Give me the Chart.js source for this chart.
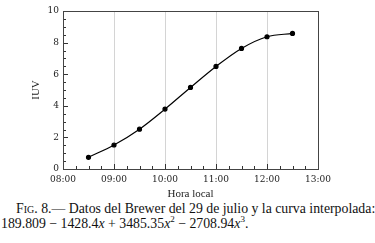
<!DOCTYPE html>
<html>
<head>
<meta charset="utf-8">
<script src="https://cdn.jsdelivr.net/npm/chart.js@4.4.1/dist/chart.umd.min.js"></script>
<style>
  html, body { margin: 0; padding: 0; background: #fff; }
  #wrap { position: relative; width: 375px; height: 243px; overflow: hidden; }
  #chart { position: absolute; left: 0; top: 0; }
  .cap { position: absolute; font-family: "Liberation Serif", serif; font-size: 13.8px; line-height: 15px; color: #111; white-space: nowrap; }
  #cap1 { left: 16px; top: 201px; }
  #cap2 { left: 1px; top: 216px; }
  .sc { font-variant: small-caps; }
  sup { font-size: 9px; line-height: 0; }
</style>
</head>
<body>
<div id="wrap">
  <canvas id="chart" width="375" height="201"></canvas>
  <div class="cap" id="cap1"><span class="sc">Fig</span>. 8.— Datos del Brewer del 29 de julio y la curva interpolada:</div>
  <div class="cap" id="cap2">189.809 − 1428.4<i>x</i> + 3485.35<i>x</i><sup>2</sup> − 2708.94<i>x</i><sup>3</sup>.</div>
</div>
<script>
// hora local (horas decimales) y valores del indice UV
const horas = [8.5, 9, 9.5, 10, 10.5, 11, 11.5, 12, 12.5];
const iuv = [0.74, 1.52, 2.52, 3.79, 5.16, 6.49, 7.63, 8.37, 8.58];
const horaTicks = [8, 9, 10, 11, 12, 13];
const iuvTicks = [0, 2, 4, 6, 8, 10];

const serif = "'DejaVu Serif', serif";

function fmtHora(v) {
  return String(v).padStart(2, "0") + ":00";
}

// marco + marcas hacia dentro, como en la figura original
const frameTicks = {
  id: "frameTicks",
  afterDraw(chart) {
    const { ctx, chartArea: a, scales } = chart;
    ctx.save();
    ctx.strokeStyle = "#333";
    ctx.lineWidth = 1;
    for (let v = 8.25; v < 13; v += 0.25) {
      const x = Math.round(scales.x.getPixelForValue(v)) + 0.5;
      const len = Number.isInteger(v) ? 5 : 3;
      ctx.beginPath();
      ctx.moveTo(x, a.bottom);
      ctx.lineTo(x, a.bottom - len);
      ctx.stroke();
    }
    for (let v = 0.5; v < 10; v += 0.5) {
      const y = Math.round(scales.y.getPixelForValue(v)) + 0.5;
      const len = Number.isInteger(v) && v % 2 === 0 ? 5 : 3;
      ctx.beginPath();
      ctx.moveTo(a.left, y);
      ctx.lineTo(a.left + len, y);
      ctx.stroke();
    }
    ctx.strokeStyle = "#444";
    ctx.strokeRect(Math.round(a.left) + 0.5, Math.round(a.top) + 0.5,
      Math.round(a.right - a.left), Math.round(a.bottom - a.top));
    ctx.restore();
  }
};

new Chart(document.getElementById("chart"), {
  type: "line",
  data: {
    datasets: [{
      data: horas.map((h, i) => ({ x: h, y: iuv[i] })),
      borderColor: "#000",
      backgroundColor: "#000",
      borderWidth: 1.2,
      pointRadius: 2,
      pointHoverRadius: 2,
      cubicInterpolationMode: "monotone"
    }]
  },
  options: {
    responsive: false,
    animation: false,
    layout: { padding: { left: 30, right: 57, top: 11, bottom: 0 } },
    plugins: { legend: { display: false }, tooltip: { enabled: false } },
    scales: {
      x: {
        type: "linear",
        min: 8,
        max: 13,
        afterBuildTicks: s => { s.ticks = horaTicks.map(v => ({ value: v })); },
        afterFit: s => { s.height = 32; },
        ticks: {
          callback: v => fmtHora(v),
          font: { family: serif, size: 9 },
          color: "#222",
          padding: 5,
          maxRotation: 0
        },
        grid: {
          drawTicks: false,
          color: c => (c.tick && c.tick.value > 8 && c.tick.value < 13) ? "#d4d4d4" : "rgba(0,0,0,0)"
        },
        border: { display: false },
        title: {
          display: true,
          text: "Hora local",
          font: { family: "'Liberation Serif', serif", size: 11 },
          color: "#222",
          padding: { top: 6, bottom: 0 }
        }
      },
      y: {
        min: 0,
        max: 10,
        afterBuildTicks: s => { s.ticks = iuvTicks.map(v => ({ value: v })); },
        afterFit: s => { s.width = 33; },
        ticks: {
          font: { family: serif, size: 9 },
          color: "#222",
          padding: 4
        },
        grid: { display: false, drawTicks: false },
        border: { display: false },
        title: {
          display: true,
          text: "IUV",
          font: { family: "'Liberation Serif', serif", size: 11 },
          color: "#222",
          padding: { top: 0, bottom: 6 }
        }
      }
    }
  },
  plugins: [frameTicks]
});
</script>
</body>
</html>
